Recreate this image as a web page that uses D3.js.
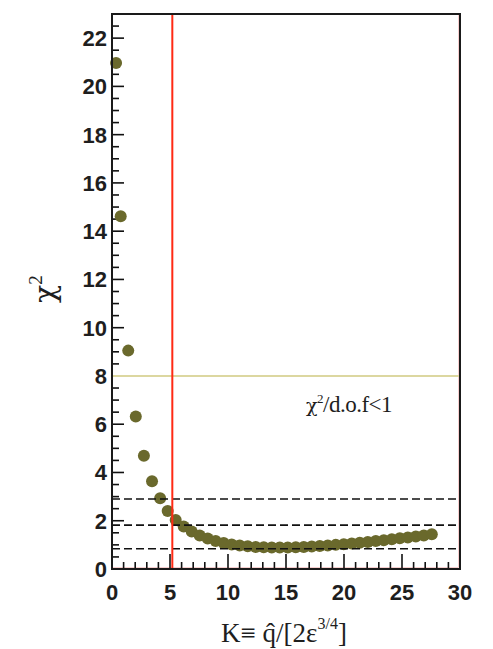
<!DOCTYPE html>
<html>
<head>
<meta charset="utf-8">
<script src="https://cdn.jsdelivr.net/npm/d3@7/dist/d3.min.js"></script>
<style>
  html, body { margin: 0; padding: 0; background: #fff; }
  svg { display: block; }
  .tick-label { font-family: "Liberation Sans", Arial, sans-serif; font-weight: bold; font-size: 22px; fill: #1e1e1e; }
  .serif { font-family: "Liberation Serif", "Times New Roman", serif; fill: #1e1e1e; }
</style>
</head>
<body>
<svg id="chart" width="493" height="649"></svg>
<script>
// Scan of the quenching parameter K against the fit chi-square
const kValues = [0.35, 0.75, 1.4, 2.05, 2.75, 3.45, 4.15,
  4.80, 5.49, 6.18, 6.87, 7.56, 8.25, 8.94, 9.63, 10.32, 11.01, 11.70, 12.39,
  13.08, 13.77, 14.46, 15.15, 15.84, 16.53, 17.22, 17.91, 18.60, 19.29, 19.98,
  20.67, 21.36, 22.05, 22.74, 23.43, 24.12, 24.81, 25.50, 26.19, 26.88, 27.57];
const chi2Values = [20.97, 14.62, 9.05, 6.32, 4.69, 3.64, 2.93,
  2.40, 2.03, 1.76, 1.55, 1.39, 1.26, 1.16, 1.08, 1.02, 0.97, 0.94, 0.91,
  0.90, 0.89, 0.89, 0.89, 0.90, 0.91, 0.93, 0.95, 0.97, 1.00, 1.03,
  1.06, 1.09, 1.12, 1.16, 1.19, 1.23, 1.27, 1.31, 1.35, 1.39, 1.44];

// Reference levels
const dashedLevels = [2.9, 1.82, 0.84];
const dofLevel = 8;
const kBest = 5.2;

const xTicks = [0, 5, 10, 15, 20, 25, 30];
const yTicks = [0, 2, 4, 6, 8, 10, 12, 14, 16, 18, 20, 22];

const svg = d3.select("#chart");
const padL = 112, padR = 460, padT = 14, padB = 569;

const x = d3.scaleLinear().domain([0, 30]).range([padL, padR]);
const y = d3.scaleLinear().domain([0, 23]).range([padB, padT]);

// faint pink inner border along the right and bottom edges
svg.append("path")
  .attr("d", `M${padR - 1.5},${padT} V${padB - 1.5} H${padL}`)
  .attr("fill", "none").attr("stroke", "#f7cfcf").attr("stroke-width", 1);

// minor/major ticks pointing inward
const g = svg.append("g");
d3.range(0, 22.51, 0.5).forEach(v => {
  const major = Math.abs(v % 2) < 1e-9;
  g.append("line")
    .attr("x1", padL).attr("x2", padL + (major ? 12 : 7))
    .attr("y1", y(v)).attr("y2", y(v))
    .attr("stroke", "#111").attr("stroke-width", 1.6);
});
d3.range(0, 30, 1).forEach(v => {
  const major = v % 5 === 0;
  g.append("line")
    .attr("y1", padB).attr("y2", padB - (major ? 15 : 7))
    .attr("x1", x(v)).attr("x2", x(v))
    .attr("stroke", "#111").attr("stroke-width", 1.6);
});

// tick labels
svg.append("g").selectAll("text").data(yTicks).join("text")
  .attr("class", "tick-label")
  .attr("x", padL - 5).attr("y", d => y(d))
  .attr("dy", "0.36em").attr("text-anchor", "end")
  .text(d => d);
svg.append("g").selectAll("text").data(xTicks).join("text")
  .attr("class", "tick-label")
  .attr("x", d => x(d)).attr("y", 600)
  .attr("text-anchor", "middle")
  .text(d => d);

// data points
svg.append("g").selectAll("circle")
  .data(kValues.map((k, i) => ({ k, c: chi2Values[i] })))
  .join("circle")
  .attr("cx", d => x(d.k)).attr("cy", d => y(d.c))
  .attr("r", 6).attr("fill", "#6a692c");

// chi2/dof = 1 level
svg.append("line")
  .attr("x1", padL).attr("x2", padR)
  .attr("y1", y(dofLevel)).attr("y2", y(dofLevel))
  .attr("stroke", "#dcd7a0").attr("stroke-width", 2);

// dashed confidence levels
svg.append("g").selectAll("line").data(dashedLevels).join("line")
  .attr("x1", padL).attr("x2", padR)
  .attr("y1", d => y(d)).attr("y2", d => y(d))
  .attr("stroke", "#111").attr("stroke-width", 1.6)
  .attr("stroke-dasharray", "8,4");

// best-fit K
svg.append("line")
  .attr("x1", x(kBest)).attr("x2", x(kBest))
  .attr("y1", padT).attr("y2", padB)
  .attr("stroke", "#ff2a14").attr("stroke-width", 2);

// frame
svg.append("rect")
  .attr("x", padL).attr("y", padT)
  .attr("width", padR - padL).attr("height", padB - padT)
  .attr("fill", "none").attr("stroke", "#1a1a1a").attr("stroke-width", 2);

// annotation
const ann = svg.append("text").attr("class", "serif")
  .attr("x", 306).attr("y", 412).attr("font-size", 23)
  .attr("letter-spacing", "-0.5");
ann.append("tspan").attr("font-family", "DejaVu Serif").attr("font-size", 19).text("χ");
ann.append("tspan").attr("font-size", 13).attr("dy", -9).text("2");
ann.append("tspan").attr("dy", 9).text("/d.o.f<1");

// y axis title
const yt = svg.append("text").attr("class", "serif")
  .attr("transform", "translate(55,303) rotate(-90)");
yt.append("tspan").attr("font-family", "DejaVu Serif").attr("font-size", 30).text("χ");
yt.append("tspan").attr("font-size", 19).attr("dy", -13).text("2");

// x axis title
const xt = svg.append("text").attr("class", "serif")
  .attr("x", 284).attr("y", 642).attr("font-size", 27)
  .attr("text-anchor", "middle");
xt.append("tspan").text("K≡ ");
xt.append("tspan").text("q\u0302");
xt.append("tspan").text("/[2ε");
xt.append("tspan").attr("font-size", 16).attr("dy", -13).text("3/4");
xt.append("tspan").attr("dy", 13).text("]");
</script>
</body>
</html>
